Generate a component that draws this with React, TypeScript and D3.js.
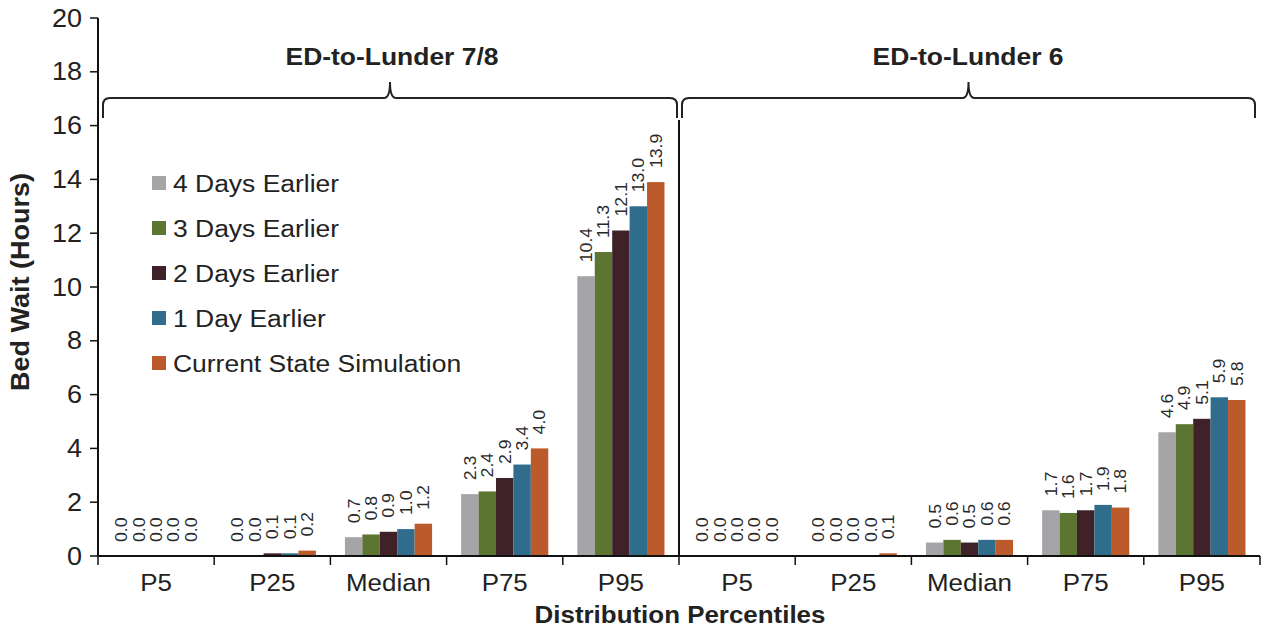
import React from "react";
import * as d3 from "d3";

// Percentile categories shown under each unit group
const percentiles = ["P5", "P25", "Median", "P75", "P95"];
const groups = ["ED-to-Lunder 7/8", "ED-to-Lunder 6"];
const seriesNames = [
  "4 Days Earlier",
  "3 Days Earlier",
  "2 Days Earlier",
  "1 Day Earlier",
  "Current State Simulation",
];
const seriesColors = ["#a5a5a8", "#5c7631", "#3e2227", "#306d8c", "#bb5a2b"];

// Bed wait values (hours) per series, in percentile order
const lunder78 = [
  [0.0, 0.0, 0.7, 2.3, 10.4],
  [0.0, 0.0, 0.8, 2.4, 11.3],
  [0.0, 0.1, 0.9, 2.9, 12.1],
  [0.0, 0.1, 1.0, 3.4, 13.0],
  [0.0, 0.2, 1.2, 4.0, 13.9],
];
const lunder6 = [
  [0.0, 0.0, 0.5, 1.7, 4.6],
  [0.0, 0.0, 0.6, 1.6, 4.9],
  [0.0, 0.0, 0.5, 1.7, 5.1],
  [0.0, 0.0, 0.6, 1.9, 5.9],
  [0.0, 0.1, 0.6, 1.8, 5.8],
];
const yTicks = [0, 2, 4, 6, 8, 10, 12, 14, 16, 18, 20];

const W = 1267;
const H = 630;
const FONT = "'Liberation Sans', Arial, sans-serif";
const SX = 1.08; // slight horizontal widening of lettering

const x0 = 98;
const x1 = 1260;
const yBase = 556;
const yTop = 18;

type T = {
  x: number;
  y: number;
  size: number;
  anchor?: "start" | "middle" | "end";
  bold?: boolean;
  rotate?: number;
  fill?: string;
  baseline?: string;
  stretch?: number;
  children: React.ReactNode;
};
const Txt = ({ x, y, size, anchor = "start", bold, rotate = 0, fill = "#222", baseline, stretch = SX, children }: T) => (
  <text
    transform={`translate(${x},${y}) rotate(${rotate}) scale(${stretch},1)`}
    fontSize={size}
    fontFamily={FONT}
    fontWeight={bold ? "bold" : "normal"}
    textAnchor={anchor}
    dominantBaseline={baseline}
    fill={fill}
  >
    {children}
  </text>
);

export default function App() {
  const cats = groups.flatMap((g) => percentiles.map((p) => `${g}|${p}`));
  const xCat = d3.scaleBand<string>().domain(cats).range([x0, x1]).paddingInner(0.25).paddingOuter(0.125);
  const xSer = d3.scaleBand<number>().domain(d3.range(seriesNames.length)).range([0, xCat.bandwidth()]);
  const y = d3.scaleLinear().domain([0, 20]).range([yBase, yTop]);
  const step = xCat.step();
  const groupData = [lunder78, lunder6];

  const bars: React.ReactNode[] = [];
  const labels: React.ReactNode[] = [];
  groups.forEach((g, gi) => {
    percentiles.forEach((p, pi) => {
      const cx = xCat(`${g}|${p}`)!;
      seriesNames.forEach((_, si) => {
        const v = groupData[gi][si][pi];
        const bx = cx + xSer(si)!;
        bars.push(
          <rect key={`b${gi}${pi}${si}`} x={bx} y={y(v)} width={xSer.bandwidth()} height={yBase - y(v)} fill={seriesColors[si]} />
        );
        labels.push(
          <Txt key={`l${gi}${pi}${si}`} x={bx + xSer.bandwidth() / 2} y={y(v) - 14} size={17} rotate={-90} baseline="central" fill="#2a2a2a" stretch={1.04}>
            {v.toFixed(1)}
          </Txt>
        );
      });
    });
  });

  // curly brace spanning [a, b] with a point at mid, line at yl
  const brace = (a: number, b: number, yl: number) => {
    const m = (a + b) / 2;
    const p = d3.path();
    p.moveTo(a, yl + 20);
    p.lineTo(a, yl + 7);
    p.quadraticCurveTo(a, yl, a + 7, yl);
    p.lineTo(m - 6, yl);
    p.quadraticCurveTo(m, yl, m, yl - 16);
    p.quadraticCurveTo(m, yl, m + 6, yl);
    p.lineTo(b - 7, yl);
    p.quadraticCurveTo(b, yl, b, yl + 7);
    p.lineTo(b, yl + 20);
    return p.toString();
  };

  const divX = x0 + step * 5;

  return (
    <svg width={W} height={H} style={{ position: "absolute", left: 0, top: 0, background: "#fff" }}>
      {bars}
      {labels}
      {/* y axis */}
      <line x1={x0} x2={x0} y1={yTop} y2={yBase} stroke="#111" strokeWidth={2} />
      {yTicks.map((t) => (
        <g key={t}>
          <line x1={x0 - 8} x2={x0} y1={y(t)} y2={y(t)} stroke="#111" strokeWidth={1.5} />
          <Txt x={82} y={y(t)} size={25} anchor="end" baseline="central">
            {t}
          </Txt>
        </g>
      ))}
      {/* x axis */}
      <line x1={x0} x2={x1} y1={yBase} y2={yBase} stroke="#111" strokeWidth={2} />
      {d3.range(cats.length + 1).map((i) => (
        <line key={i} x1={x0 + i * step} x2={x0 + i * step} y1={yBase} y2={yBase + 9} stroke="#111" strokeWidth={1.5} />
      ))}
      {cats.map((c) => (
        <Txt key={c} x={xCat(c)! + xCat.bandwidth() / 2} y={591} size={24} anchor="middle">
          {c.split("|")[1]}
        </Txt>
      ))}
      {/* group divider */}
      <line x1={divX} x2={divX} y1={120} y2={yBase} stroke="#111" strokeWidth={2} />
      {/* braces and group titles */}
      <path d={brace(103, 677, 98)} fill="none" stroke="#222" strokeWidth={2} />
      <path d={brace(682, 1255, 98)} fill="none" stroke="#222" strokeWidth={2} />
      <Txt x={392} y={65} size={24.5} anchor="middle" bold>
        {groups[0]}
      </Txt>
      <Txt x={968} y={65} size={24.5} anchor="middle" bold>
        {groups[1]}
      </Txt>
      {/* axis titles */}
      <Txt x={29} y={282} size={25} anchor="middle" bold rotate={-90}>
        Bed Wait (Hours)
      </Txt>
      <Txt x={680} y={623} size={24} anchor="middle" bold>
        Distribution Percentiles
      </Txt>
      {/* legend */}
      {seriesNames.map((s, i) => (
        <g key={s}>
          <rect x={152} y={183 + i * 45 - 7} width={14} height={14} fill={seriesColors[i]} />
          <Txt x={173} y={183 + i * 45} size={24.5} baseline="central">
            {s}
          </Txt>
        </g>
      ))}
    </svg>
  );
}
